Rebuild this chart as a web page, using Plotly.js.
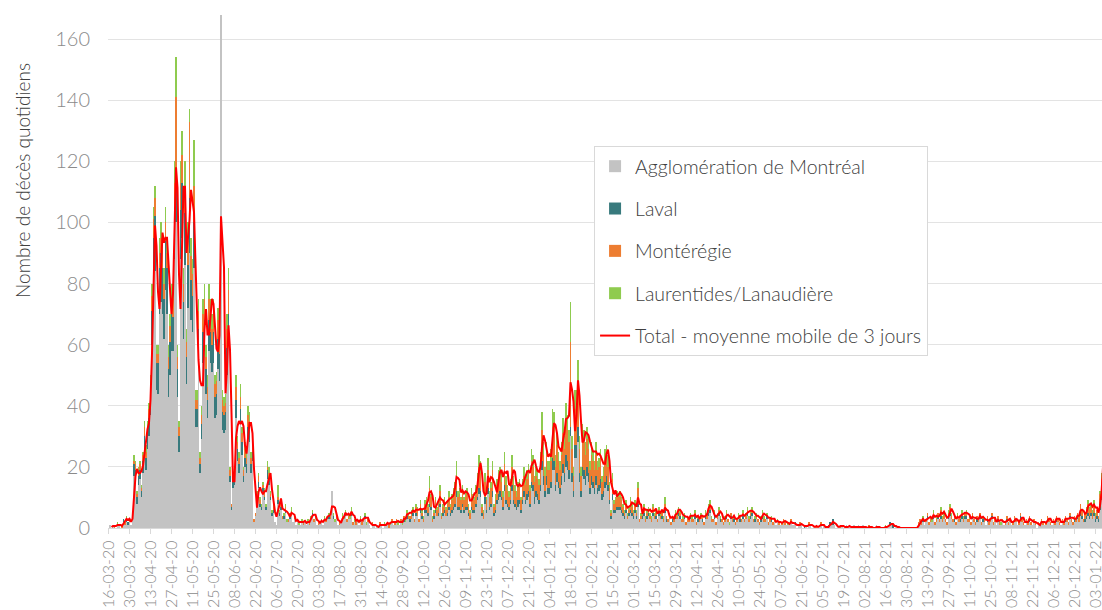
<!DOCTYPE html>
<html><head><meta charset="utf-8">
<script src="https://cdn.plot.ly/plotly-3.0.1.min.js"></script>
<style>html,body{margin:0;padding:0;background:#fff;} #chart{width:1102px;height:610px;}</style>
</head><body><div id="chart"></div>
<script>
const tickLabels = ['16-03-20','30-03-20','13-04-20','27-04-20','11-05-20','25-05-20','08-06-20','22-06-20','06-07-20','20-07-20','03-08-20','17-08-20','31-08-20','14-09-20','28-09-20','12-10-20','26-10-20','09-11-20','23-11-20','07-12-20','21-12-20','04-01-21','18-01-21','01-02-21','15-02-21','01-03-21','15-03-21','29-03-21','12-04-21','26-04-21','10-05-21','24-05-21','07-06-21','21-06-21','05-07-21','19-07-21','02-08-21','16-08-21','30-08-21','13-09-21','27-09-21','11-10-21','25-10-21','08-11-21','22-11-21','06-12-21','20-12-21','03-01-22'];

const montreal = [
0,1,0,1,0,0,1,1,0,0, 2,1,2,1,2,1,3,17,16,8, 14,16,10,18,25,19,26,30,37,60, 78,84,45,44,70,74,70,62,78,70,
43,50,58,58,88,100,43,25,88,95, 62,86,47,72,90,68,64,85,33,33, 55,18,29,54,58,44,36,58,54,51, 54,36,37,52,48,168,32,31,32,50,
60,15,6,13,14,36,22,18,34,24, 15,20,18,29,28,18,22,2,4,9, 13,7,6,11,9,6,16,14,9,4, 5,2,1,8,4,6,3,3,5,2,
2,3,4,2,3,1,2,1,1,2, 1,2,1,2,1,3,4,2,3,1, 1,2,2,1,3,2,3,3,3,12, 3,2,3,1,1,2,3,3,4,2,
3,3,4,1,2,1,2,1,2,1, 2,3,1,2,1,0,1,1,0,1, 0,1,1,0,1,1,1,0,1,2, 1,1,2,1,1,2,1,2,2,3,
3,2,3,4,2,4,4,2,5,3, 2,5,5,4,7,6,2,3,5,4, 4,7,3,4,5,4,4,6,4,5, 6,7,10,6,6,5,7,5,6,6,
4,3,6,5,5,7,9,11,10,4, 3,8,5,11,6,7,10,4,5,8, 9,10,9,6,12,8,7,6,8,12, 8,7,6,7,8,5,8,10,8,9,
10,7,13,12,8,10,9,8,12,19, 14,10,14,11,11,13,19,19,12,15, 13,11,14,18,15,20,19,16,30,15, 10,23,23,28,15,10,17,16,14,17,
15,11,14,13,11,14,11,12,13,9, 10,13,14,12,8,3,9,5,5,6, 6,6,5,4,3,5,3,4,5,4, 3,5,3,7,2,3,3,4,2,3,
4,3,2,4,3,3,2,4,3,3, 2,5,2,2,3,1,2,2,3,3, 4,3,2,2,3,1,2,2,3,2, 2,3,1,2,2,3,2,1,3,3,
4,5,2,2,3,1,3,4,2,2, 1,2,3,2,1,3,2,2,1,2, 3,2,2,3,2,3,4,2,3,4, 2,2,3,2,1,2,3,2,2,3,
1,2,2,1,2,1,2,1,1,1, 2,1,1,1,1,2,1,1,1,0, 1,1,1,0,0,1,0,1,1,0, 1,0,0,0,1,1,0,1,0,0,
0,1,1,1,1,0,1,0,0,1, 0,0,1,0,1,0,0,1,0,0, 1,0,0,1,0,0,0,0,0,0, 0,0,1,0,0,0,0,0,0,0,
1,1,1,0,0,1,0,0,0,0, 0,0,0,0,0,0,0,0,0,0, 1,2,1,2,1,2,3,1,2,2, 3,1,2,3,2,3,2,3,2,1,
3,4,3,2,2,1,3,2,2,3, 2,3,3,2,2,1,3,2,1,2, 2,3,1,2,2,1,2,1,2,3, 1,2,1,2,1,1,2,1,1,2,
1,2,1,1,2,2,1,1,3,2, 1,1,2,1,2,1,1,2,1,0, 1,1,2,1,1,1,2,2,1,1, 2,1,2,2,1,1,2,1,2,2,
1,3,2,1,2,2,3,2,4,3, 2,2,3,4,3,4,3,4,2,3, 2,6,9,15];

const laval = [
0,0,0,0,0,0,0,0,0,0, 1,0,1,1,0,0,1,4,3,2, 3,3,2,4,5,4,5,6,7,11, 17,18,9,10,15,16,15,13,16,15,
9,11,12,11,17,16,9,5,16,18, 12,17,9,14,18,13,12,15,6,6, 10,3,5,10,10,8,6,10,10,9, 10,7,7,10,9,0,6,6,6,9,
10,2,1,2,3,6,4,3,5,4, 2,3,3,4,4,3,3,0,0,1, 2,1,1,2,1,1,3,2,1,1, 1,0,0,1,1,1,0,1,1,0,
0,1,0,0,0,0,0,0,0,0, 0,0,0,0,0,0,1,0,0,0, 0,0,0,0,0,0,0,1,0,0, 1,0,0,0,0,0,0,0,1,0,
0,0,1,0,0,0,0,0,1,0, 0,1,0,0,0,0,0,0,0,0, 0,0,0,0,0,0,0,0,0,0, 0,0,0,0,0,0,0,1,0,1,
0,1,0,1,0,1,0,0,1,1, 0,1,1,1,1,1,0,1,1,0, 1,1,0,1,1,0,1,1,1,1, 1,1,2,1,1,1,1,1,1,1,
1,0,1,1,1,1,1,2,2,1, 0,2,1,2,1,1,2,1,1,1, 2,2,1,1,2,1,1,1,1,2, 1,1,1,2,1,1,1,2,1,2,
2,1,2,2,2,2,2,1,2,3, 3,2,3,2,2,2,4,3,2,3, 2,2,3,3,3,4,3,3,3,3, 2,4,4,5,3,2,3,3,3,3,
3,2,3,2,2,3,2,2,3,2, 2,2,3,2,1,1,2,1,1,1, 1,1,1,1,1,1,0,1,1,1, 1,1,1,1,0,0,1,1,0,1,
1,0,0,1,0,1,0,1,0,1, 0,1,1,0,0,0,1,0,1,0, 1,1,0,0,1,0,0,0,1,0, 0,1,0,1,0,0,1,0,1,0,
1,1,0,0,1,0,0,1,1,0, 0,0,1,0,0,1,0,1,0,0, 0,1,0,1,0,0,1,0,1,1, 0,1,0,0,0,1,1,0,0,1,
0,0,1,0,0,0,0,0,0,0, 0,0,0,0,0,0,0,0,1,0, 0,0,0,0,1,0,0,0,0,0, 0,0,0,0,0,0,0,0,0,0,
1,1,0,2,0,0,0,0,0,0, 0,0,0,0,0,0,0,0,0,0, 0,0,0,0,0,0,0,0,0,0, 0,0,0,0,0,0,0,0,0,0,
0,1,0,1,0,0,0,0,0,0, 0,0,0,0,0,0,0,0,0,0, 0,0,0,1,0,0,1,0,0,0, 1,0,0,1,0,1,0,0,0,0,
1,1,0,0,1,0,0,0,1,1, 0,1,1,0,0,0,1,0,0,1, 0,1,0,1,0,0,1,0,0,1, 0,0,0,1,0,0,0,0,0,1,
0,0,0,0,1,0,0,0,1,0, 0,0,0,0,1,0,0,0,0,0, 0,0,0,0,0,0,1,0,0,0, 0,0,1,0,0,0,0,0,1,0,
0,1,0,0,1,0,1,0,1,1, 0,1,1,1,1,1,0,1,1,1, 1,2,3,5];

const monteregie = [
0,0,0,0,1,0,0,0,0,1, 0,1,0,0,1,0,1,1,2,1, 2,2,1,2,3,2,2,3,3,5, 6,6,3,3,5,5,6,5,6,5,
4,5,5,6,8,25,4,3,9,9, 6,9,5,8,25,8,7,12,3,3, 6,2,3,6,7,4,4,7,6,5, 6,4,4,6,5,0,4,3,3,6,
8,2,1,2,2,4,2,2,4,3, 2,3,2,4,3,2,3,1,1,1, 2,1,0,1,2,0,1,2,1,0, 1,0,0,1,0,1,1,0,1,0,
1,0,1,0,1,0,1,0,0,0, 1,0,0,0,1,0,0,1,0,0, 1,0,0,0,0,1,0,0,1,0, 0,0,1,0,1,0,1,0,0,1,
1,0,0,1,0,1,0,0,0,1, 1,0,0,1,0,0,1,0,0,0, 0,1,0,0,0,0,1,1,0,1, 0,1,1,0,0,1,0,1,0,1,
1,1,2,1,1,2,2,1,2,1, 1,2,3,2,5,3,1,1,3,2, 3,4,1,2,3,2,3,3,2,3, 4,4,5,3,4,3,4,3,3,4,
2,2,4,3,3,4,5,7,6,2, 2,5,3,6,3,5,7,2,3,5, 5,5,5,3,7,5,4,3,4,6, 5,4,3,4,5,3,5,5,5,5,
6,4,7,6,5,5,5,5,7,10, 7,5,7,6,6,7,10,10,6,9, 7,6,7,10,8,11,10,9,28,8, 5,12,12,14,8,5,9,9,7,9,
8,6,7,7,6,7,6,6,7,4, 5,7,7,6,4,1,5,2,3,3, 3,3,3,2,1,2,1,1,3,2, 1,2,1,5,1,1,1,2,1,1,
1,1,1,2,1,1,1,1,1,1, 1,2,1,1,1,1,0,1,1,1, 1,1,1,1,0,1,1,1,0,1, 1,1,1,0,1,1,1,1,1,1,
2,2,1,1,1,1,1,1,0,1, 1,1,1,1,0,1,1,0,1,1, 1,1,1,1,1,1,1,1,1,1, 1,0,1,1,1,0,1,1,1,0,
1,1,0,1,1,0,0,1,0,1, 1,1,0,0,0,1,0,0,0,0, 0,1,0,0,0,0,0,1,0,0, 0,0,1,0,0,1,0,0,0,0,
0,0,0,0,0,0,0,0,1,0, 0,0,0,0,0,0,0,0,0,0, 0,0,0,0,0,0,0,1,0,0, 0,0,0,0,0,0,0,0,0,0,
0,0,0,0,0,0,0,0,0,0, 0,0,0,0,0,0,0,0,0,0, 1,1,1,0,0,1,1,1,1,0, 1,1,1,1,1,2,1,1,1,1,
1,2,1,1,1,1,1,1,1,1, 1,1,1,1,1,1,1,1,1,1, 1,1,1,0,1,0,1,1,1,1, 1,1,0,1,1,0,1,0,1,1,
1,1,0,1,1,1,0,1,1,1, 1,0,1,1,1,1,0,1,1,0, 1,0,1,1,0,1,1,1,1,0, 1,1,1,1,1,0,1,1,1,1,
1,1,1,1,1,1,1,2,3,2, 1,2,2,3,2,2,2,3,1,2, 1,3,4,7];

const laurentides = [
0,0,0,0,0,0,1,0,0,0, 0,0,1,0,0,0,0,2,1,1, 1,1,1,1,2,2,2,2,3,4, 4,4,3,3,5,5,4,5,5,5,
4,4,5,5,7,13,4,2,7,8, 5,8,4,6,4,6,5,15,3,3, 4,2,3,5,5,4,4,5,5,5, 5,3,3,4,4,0,3,3,3,5,
7,1,0,1,1,4,2,2,4,2, 1,2,2,3,3,2,2,0,0,1, 1,1,1,1,1,1,2,2,1,1, 1,0,0,4,1,1,0,1,1,1,
0,1,2,0,0,0,0,1,0,1, 0,0,0,1,0,1,1,0,1,0, 0,0,1,0,1,0,1,1,0,0, 1,1,0,0,0,0,1,1,1,0,
1,1,2,0,1,0,1,0,1,0, 0,1,1,0,0,0,0,0,0,0, 0,0,0,0,1,0,0,0,1,0, 0,0,0,1,0,0,1,0,1,1,
1,0,1,1,0,1,1,0,1,1, 1,1,1,1,4,1,1,1,1,1, 1,2,1,1,1,1,1,2,1,2, 2,3,5,2,2,1,2,1,2,2,
1,1,2,2,1,2,3,4,4,1, 1,3,1,4,2,2,3,1,2,2, 3,3,3,2,4,3,2,2,3,4, 3,2,2,2,2,1,2,3,2,3,
3,2,4,4,2,3,3,2,4,6, 4,3,4,3,3,4,6,6,4,4, 3,3,4,5,4,6,5,4,13,4, 3,6,6,8,4,3,5,4,4,4,
4,3,4,3,3,4,3,3,3,2, 3,4,3,4,2,1,2,1,1,2, 1,2,1,1,1,1,1,1,1,1, 1,1,1,2,0,1,1,1,1,1,
1,1,1,1,1,1,0,1,1,1, 1,2,0,0,1,0,1,0,1,1, 1,1,0,1,1,0,1,0,1,1, 0,1,0,1,0,1,0,0,1,1,
1,1,1,0,1,0,1,1,1,0, 0,1,1,0,1,0,0,1,0,0, 1,0,0,1,0,1,1,1,1,1, 0,1,1,0,0,1,1,1,0,1,
0,0,1,0,0,0,1,0,0,0, 0,0,0,1,0,0,0,0,0,0, 0,0,0,0,0,0,0,0,0,0, 0,0,0,0,0,0,0,0,0,0,
0,0,0,0,0,0,0,0,0,0, 0,0,0,0,0,0,0,0,0,0, 0,0,0,0,0,0,0,0,0,0, 0,0,0,0,0,0,0,0,1,0,
0,0,0,0,0,0,0,0,0,0, 0,0,0,0,0,0,0,0,0,0, 0,0,0,1,0,0,0,0,1,1, 1,0,1,0,0,1,1,1,0,0,
1,1,1,0,0,0,1,0,0,1, 1,0,1,0,1,0,0,0,0,0, 0,0,0,1,0,0,0,0,0,0, 0,0,0,0,0,1,0,0,0,0,
0,0,0,0,0,0,0,0,0,0, 0,0,0,0,0,0,0,0,0,0, 0,0,0,0,0,0,0,0,0,0, 0,0,0,0,0,0,0,0,0,0,
0,0,0,0,0,0,0,0,0,0, 0,0,1,1,1,1,1,1,1,0, 0,1,2,3];

const seriesNames = ['Agglomération de Montréal','Laval','Montérégie','Laurentides/Lanaudière','Total - moyenne mobile de 3 jours'];
const seriesColors = ['#C3C3C3','#387A7D','#ED7D31','#8FCB4F','#FF0000'];
const yTitle = 'Nombre de décès quotidiens';

const days = montreal.map((_, i) => i);
const total = days.map(i => (montreal[i]||0)+(laval[i]||0)+(monteregie[i]||0)+(laurentides[i]||0));
const movingAvg = days.map(i => i < 2 ? null : (total[i-2]+total[i-1]+total[i])/3);

const font = "Lato, 'Open Sans', sans-serif";
const barSeries = [montreal, laval, monteregie, laurentides];
const traces = barSeries.map((vals, k) => ({
  type: 'bar', x: days, y: vals, name: seriesNames[k], legendgroup: 'g'+k,
  marker: {color: seriesColors[k], line: {width: 0}}, hoverinfo: 'skip'
}));
traces.push({
  type: 'scatter', mode: 'lines', x: days, y: movingAvg, name: seriesNames[4], legendgroup: 'g4',
  line: {color: seriesColors[4], width: 2}, connectgaps: false, hoverinfo: 'skip'
});

const layout = {
  width: 1102, height: 610,
  margin: {l: 108, r: 0, t: 0, b: 82},
  paper_bgcolor: '#fff', plot_bgcolor: '#fff',
  barmode: 'stack', bargap: 0.3,
  font: {family: font, color: '#595959'},
  showlegend: true,
  legend: {
    x: 0.489, y: 0.7235, xanchor: 'left', yanchor: 'top',
    bgcolor: '#ffffff', bordercolor: '#d9d9d9', borderwidth: 1,
    font: {family: font, size: 19.5, color: '#404040', weight: 300},
    traceorder: 'grouped', tracegroupgap: 14, itemwidth: 30
  },
  xaxis: {
    range: [-0.33, 662.33], tickmode: 'array',
    tickvals: tickLabels.map((_, i) => i * 14), ticktext: tickLabels,
    tickangle: -90, tickfont: {family: font, size: 16, color: '#8a8a8a', weight: 300},
    ticklabeloverflow: 'allow',
    ticks: 'outside', ticklen: 5, tickcolor: '#d9d9d9',
    showline: true, linecolor: '#d9d9d9', linewidth: 1,
    showgrid: false, zeroline: false, fixedrange: true
  },
  yaxis: {
    range: [0, 172.76], tickmode: 'linear', tick0: 0, dtick: 20,
    tickfont: {family: font, size: 20, color: '#8a8a8a', weight: 300},
    showgrid: true, gridcolor: '#e3e3e3', gridwidth: 1,
    zeroline: false, showline: false, ticks: '', ticklabelstandoff: 17, fixedrange: true
  },
  annotations: [{
    text: yTitle, xref: 'paper', yref: 'paper',
    x: (22 - 108) / 994, y: 1 - 181 / 528, xanchor: 'center', yanchor: 'middle',
    textangle: -90, showarrow: false,
    font: {family: font, size: 19, color: '#404040', weight: 300}
  }]
};

Plotly.newPlot('chart', traces, layout, {displayModeBar: false, staticPlot: true});
</script>
</body></html>
